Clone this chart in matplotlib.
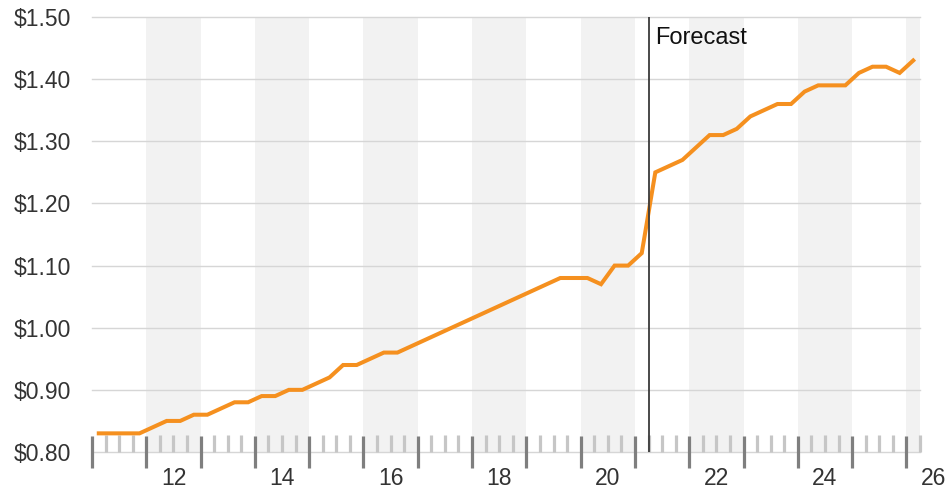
import matplotlib

matplotlib.use("Agg")
import matplotlib.pyplot as plt
import matplotlib.transforms as mtransforms
from matplotlib.ticker import FixedLocator, FuncFormatter, NullFormatter

plt.rcParams["font.family"] = ["Liberation Sans", "DejaVu Sans"]

# quarterly price, 2011Q1 .. 2026Q1
years = [2011] * 4 + [2012] * 4 + [2013] * 4 + [2014] * 4 + [2015] * 4 + [2016] * 4 \
    + [2017] * 4 + [2018] * 4 + [2019] * 4 + [2020] * 4 + [2021] * 4 + [2022] * 4 \
    + [2023] * 4 + [2024] * 4 + [2025] * 4 + [2026]
quarters = [1, 2, 3, 4] * 15 + [1]
prices = [
    0.83, 0.83, 0.83, 0.83,
    0.84, 0.85, 0.85, 0.86,
    0.86, 0.87, 0.88, 0.88,
    0.89, 0.89, 0.90, 0.90,
    0.91, 0.92, 0.94, 0.94,
    0.95, 0.96, 0.96, 0.97,
    0.98, 0.99, 1.00, 1.01,
    1.02, 1.03, 1.04, 1.05,
    1.06, 1.07, 1.08, 1.08,
    1.08, 1.07, 1.10, 1.10,
    1.12, 1.25, 1.26, 1.27,
    1.29, 1.31, 1.31, 1.32,
    1.34, 1.35, 1.36, 1.36,
    1.38, 1.39, 1.39, 1.39,
    1.41, 1.42, 1.42, 1.41,
    1.43,
]
year_labels = ["12", "14", "16", "18", "20", "22", "24", "26"]
label_years = [2012, 2014, 2016, 2018, 2020, 2022, 2024, 2026]
shaded_years = [2012, 2014, 2016, 2018, 2020, 2022, 2024, 2026]
forecast_start = 2021.25
y_ticks = [0.80, 0.90, 1.00, 1.10, 1.20, 1.30, 1.40, 1.50]

TEXT = "#333333"
ORANGE = "#F5901F"

fig = plt.figure(figsize=(9.49, 4.90), dpi=100)
ax = fig.add_axes([92 / 949, 38 / 490, 828 / 949, 435 / 490])

x0, x1 = 2011.0, 2026.25
ax.set_xlim(x0, x1)
ax.set_ylim(0.80, 1.50)

for yr in shaded_years:
    ax.axvspan(yr, yr + 1, color="#f2f2f2", lw=0, zorder=0)

for v in y_ticks:
    ax.axhline(v, color="#d6d6d6", lw=1.0, zorder=1, clip_on=False)

xs = [y + (q - 0.5) / 4 for y, q in zip(years, quarters)]
ax.plot(xs, prices, color=ORANGE, lw=2.9, zorder=3, solid_joinstyle="miter")

ax.axvline(forecast_start, color="#3a3a3a", lw=1.3, zorder=4)
ax.annotate("Forecast", xy=(forecast_start, 1.50), xytext=(4.5, -7.5),
            textcoords="offset points", ha="left", va="top",
            fontsize=17, color="#111111")

for s in ax.spines.values():
    s.set_visible(False)

# year boundaries (major) and quarter boundaries (minor)
ax.xaxis.set_major_locator(FixedLocator(list(range(2011, 2027))))
ax.xaxis.set_minor_locator(FixedLocator([2011 + i / 4 for i in range(62)]))
ax.xaxis.set_major_formatter(NullFormatter())
ax.tick_params(axis="x", which="major", direction="inout", length=23, width=2.3,
               color="#7f7f7f")
ax.tick_params(axis="x", which="minor", direction="in", length=12, width=2.3,
               color="#c6c6c6")

trans = mtransforms.blended_transform_factory(ax.transData, ax.transAxes)
for yr, lab in zip(label_years, year_labels):
    ax.text(yr + 0.5, -0.035, lab, transform=trans, ha="center", va="top",
            fontsize=16.5, color=TEXT, clip_on=False)

ax.set_yticks(y_ticks)
ax.yaxis.set_major_formatter(FuncFormatter(lambda v, _: f"${v:.2f}"))
ax.tick_params(axis="y", length=0, pad=15, labelsize=16.5, labelcolor=TEXT)

fig.savefig("out.png", dpi=100)
